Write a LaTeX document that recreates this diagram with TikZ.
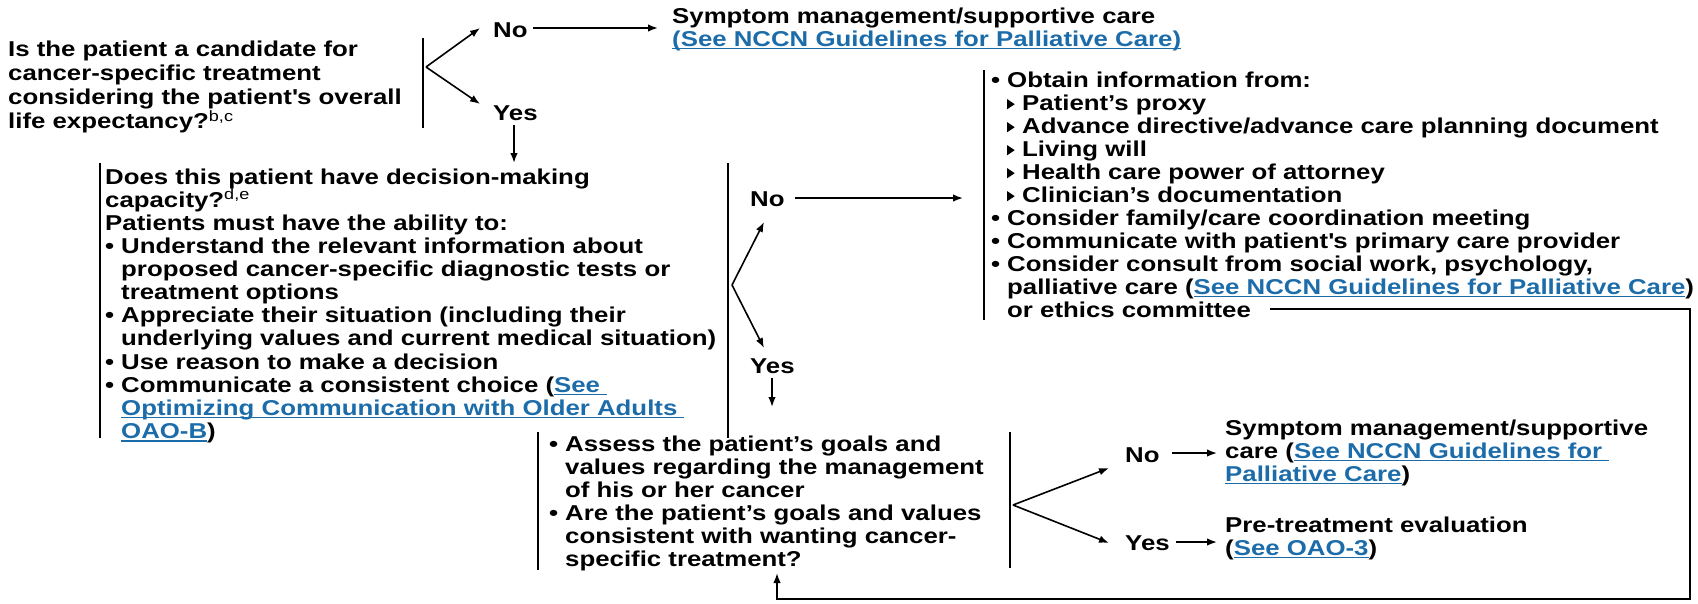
\documentclass[tikz,border=0pt]{standalone}
\usepackage{fontspec}
\setmainfont{Liberation Sans}[FakeStretch=1.2]
\usetikzlibrary{arrows.meta}
\definecolor{linkblue}{RGB}{28,108,170}
\newcommand\lnk[1]{{\color{linkblue}\setbox0\hbox{#1}\rlap{\rule[-3.2pt]{\wd0}{1.3pt}}\box0}}
\newcommand\fs{\fontsize{21.5}{23}\selectfont\bfseries}
\newcommand\fsd{\fontsize{21.5}{23.1}\selectfont\bfseries}
\newcommand\fsq{\fontsize{21.5}{24.2}\selectfont\bfseries}
\newcommand\st{\rule{0pt}{16pt}}
\newcommand\bul{\makebox[16pt][l]{•}}
\newcommand\ind{\hspace*{16pt}}
\newcommand\tri{\makebox[15pt][l]{\tikz[baseline=0pt]\fill (0pt,1pt) -- (0pt,11pt) -- (7.5pt,6pt) -- cycle;}}
\newcommand\sq{\textquotesingle}
\begin{document}
\begin{tikzpicture}[x=1pt,y=-1pt,
  txt/.style={anchor=north west, inner sep=0pt, align=left, font=\fs},
  lab/.style={anchor=base west, inner sep=0pt, font=\fs},
  bar/.style={line width=2pt},
  arr/.style={line width=1.6pt, -{Latex[length=10pt,width=7.5pt]}}]
\useasboundingbox (0,0) rectangle (1698,603);

% ---- Q1
\node[txt, font=\fsq] (q1) at (8,40) {\st Is the patient a candidate for\\cancer-specific treatment\\considering the patient\sq s overall\\life expectancy?\textsuperscript{\mdseries b,c}};
\coordinate (b1t) at (423,38); \coordinate (b1b) at (423,128);
\draw[bar] (b1t) -- (b1b);
\coordinate (f1) at (426,67);
\node[lab] (no1) at (493,37) {No};
\node[lab] (yes1) at (493,120) {Yes};
\coordinate (no1in) at (480,28); \coordinate (yes1in) at (480,104);
\draw[arr] (f1) -- (no1in);
\draw[arr] (f1) -- (yes1in);
\node[txt] (sym1) at (672,7) {\st Symptom management/supportive care\\\lnk{(See NCCN Guidelines for Palliative Care)}};
\coordinate (no1out) at (533,28); \coordinate (sym1in) at (658,28);
\draw[arr] (no1out) -- (sym1in);
\coordinate (yes1out) at (514,125); \coordinate (decin) at (514,163);
\draw[arr] (yes1out) -- (decin);

% ---- decision block
\coordinate (b2t) at (100,163); \coordinate (b2b) at (100,438);
\draw[bar] (b2t) -- (b2b);
\node[txt, font=\fsd] (dec) at (105,168) {\st Does this patient have decision-making\\
capacity?\textsuperscript{\mdseries d,e}\\
Patients must have the ability to:\\
\bul Understand the relevant information about\\
\ind proposed cancer-specific diagnostic tests or\\
\ind treatment options\\
\bul Appreciate their situation (including their\\
\ind underlying values and current medical situation)\\
\bul Use reason to make a decision\\
\bul Communicate a consistent choice (\lnk{See\ }\\
\ind \lnk{Optimizing Communication with Older Adults\ }\\
\ind \lnk{OAO-B})};
\coordinate (b3t) at (728,163); \coordinate (b3b) at (728,438);
\draw[bar] (b3t) -- (b3b);
\coordinate (f2) at (732,285);
\node[lab] (no2) at (750,206) {No};
\node[lab] (yes2) at (750,373) {Yes};
\coordinate (no2in) at (764,222); \coordinate (yes2in) at (764,348);
\draw[arr] (f2) -- (no2in);
\draw[arr] (f2) -- (yes2in);
\coordinate (no2out) at (795,198); \coordinate (infoin) at (963,198);
\draw[arr] (no2out) -- (infoin);
\coordinate (yes2out) at (772,378); \coordinate (goalsin) at (772,407);
\draw[arr] (yes2out) -- (goalsin);

% ---- information block
\coordinate (b4t) at (984,70); \coordinate (b4b) at (984,320);
\draw[bar] (b4t) -- (b4b);
\node[txt] (info) at (991,71) {\st \bul Obtain information from:\\
\ind\tri Patient’s proxy\\
\ind\tri Advance directive/advance care planning document\\
\ind\tri Living will\\
\ind\tri Health care power of attorney\\
\ind\tri Clinician’s documentation\\
\bul Consider family/care coordination meeting\\
\bul Communicate with patient\sq s primary care provider\\
\bul Consider consult from social work, psychology,\\
\ind palliative care (\lnk{See NCCN Guidelines for Palliative Care})\\
\ind or ethics committee};

% ---- goals block
\coordinate (b5t) at (538,432); \coordinate (b5b) at (538,570);
\draw[bar] (b5t) -- (b5b);
\node[txt] (goals) at (549,435) {\st \bul Assess the patient’s goals and\\
\ind values regarding the management\\
\ind of his or her cancer\\
\bul Are the patient’s goals and values\\
\ind consistent with wanting cancer-\\
\ind specific treatment?};
\coordinate (b6t) at (1010,432); \coordinate (b6b) at (1010,568);
\draw[bar] (b6t) -- (b6b);
\coordinate (f3) at (1013,505);
\node[lab] (no3) at (1125,462) {No};
\node[lab] (yes3) at (1125,550) {Yes};
\coordinate (no3in) at (1109,468); \coordinate (yes3in) at (1109,543);
\draw[arr] (f3) -- (no3in);
\draw[arr] (f3) -- (yes3in);
\node[txt] (sym3) at (1225,419) {\st Symptom management/supportive\\care (\lnk{See NCCN Guidelines for\ }\\\lnk{Palliative Care})};
\node[txt] (pre) at (1225,516) {\st Pre-treatment evaluation\\(\lnk{See OAO-3})};
\coordinate (no3out) at (1172,453); \coordinate (sym3in) at (1217,453);
\draw[arr] (no3out) -- (sym3in);
\coordinate (yes3out) at (1176,542); \coordinate (prein) at (1217,542);
\draw[arr] (yes3out) -- (prein);

% ---- feedback loop
\coordinate (fbs) at (1270,309); \coordinate (fbc1) at (1690,309);
\coordinate (fbc2) at (1690,599); \coordinate (fbc3) at (777,599);
\coordinate (fbe) at (777,573);
\draw[arr] (fbs) -- (fbc1) -- (fbc2) -- (fbc3) -- (fbe);
\end{tikzpicture}
\end{document}
